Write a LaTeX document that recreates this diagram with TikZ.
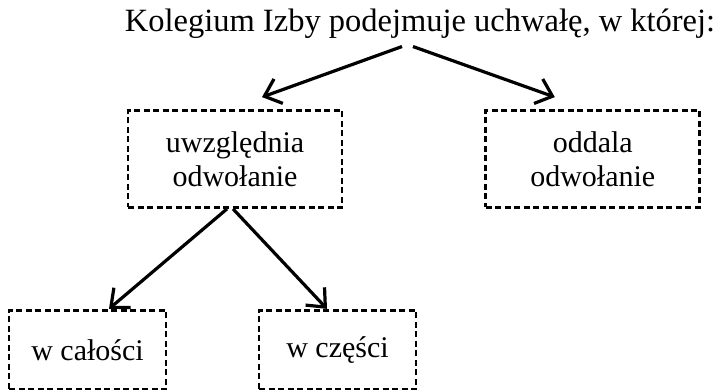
\documentclass[tikz,border=0pt]{standalone}
\usepackage{fontspec}
\setmainfont{Liberation Serif}
\usepackage{tikz}
\usetikzlibrary{positioning, arrows.meta}

\begin{document}
\begin{tikzpicture}[x=1pt, y=1pt,
      every node/.style={font=\fontsize{30}{34.5}\selectfont},
      optbox/.style={rectangle, draw=black, line width=2.8pt, dash pattern=on 6pt off 3.5pt,
      text centered, align=center, inner sep=0pt},
      bigbox/.style={optbox, minimum width=214pt, minimum height=97pt},
      smallbox/.style={optbox, minimum width=157pt, minimum height=79pt},
      arr/.style={line width=3.2pt, -{Straight Barb[length=15pt, width=26pt, line width=3.2pt]}}
    ]
      \useasboundingbox (0,0) rectangle (721,390);
      \node[anchor=base, font=\fontsize{32.5}{37}\selectfont] (title) at (420,358) {Kolegium Izby podejmuje uchwałę, w której:};
      \node[bigbox] (uwzgl) at (235,231) {uwzględnia\\odwołanie};
      \node[bigbox, right=141pt of uwzgl] (oddala) {oddala\\odwołanie};
      \node[smallbox, below=100pt of uwzgl, xshift=-147.5pt] (calosc) {w całości};
      \node[smallbox, below=100pt of uwzgl, xshift=102.5pt] (czesc) {w części};

      \draw[arr] ([xshift=-18pt, yshift=-4pt]title.south) -- ([xshift=27pt, yshift=12pt]uwzgl.north);
      \draw[arr] ([xshift=-7pt, yshift=-4pt]title.south) -- ([xshift=-38pt, yshift=12pt]oddala.north);
      \draw[arr] ([xshift=-8pt]uwzgl.south) -- ([xshift=21.5pt]calosc.north);
      \draw[arr] ([xshift=-2pt]uwzgl.south) -- ([xshift=-10.5pt]czesc.north);
    \end{tikzpicture}
\end{document}
